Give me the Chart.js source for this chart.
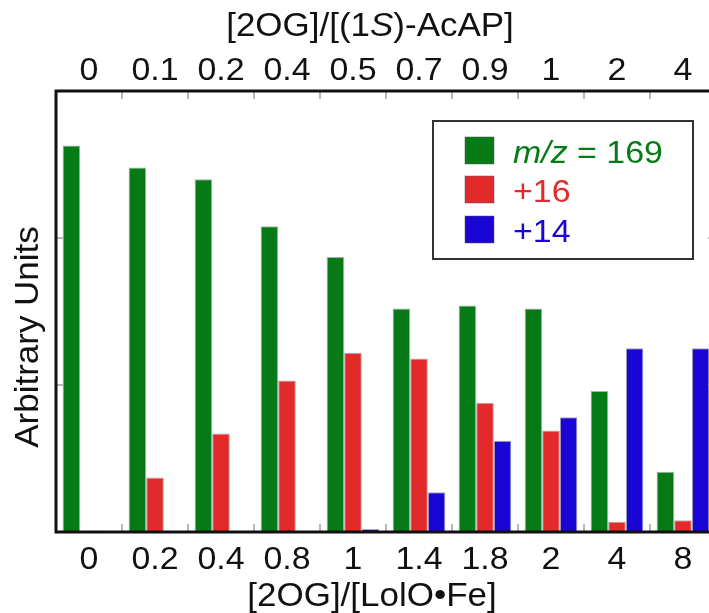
<!DOCTYPE html>
<html>
<head>
<meta charset="utf-8">
<script src="https://cdn.jsdelivr.net/npm/chart.js@4.4.1/dist/chart.umd.min.js"></script>
<style>
    html, body { margin: 0; padding: 0; background: #fff; overflow: hidden; }
    canvas { display: block; }
</style>
</head>
<body>
<canvas id="graficoLolO" width="720" height="613"></canvas>
<script>

// categorias (eixo de baixo e eixo de cima)
const labelsLolO = ['0', '0.2', '0.4', '0.8', '1', '1.4', '1.8', '2', '4', '8']
const labelsAcAP = ['0', '0.1', '0.2', '0.4', '0.5', '0.7', '0.9', '1', '2', '4']

// valores (unidades arbitrarias)
const valores169 = [2.63, 2.48, 2.40, 2.08, 1.87, 1.52, 1.54, 1.52, 0.96, 0.41]
const valoresMais16 = [0.008, 0.37, 0.67, 1.03, 1.22, 1.18, 0.88, 0.69, 0.07, 0.08]
const valoresMais14 = [0, 0.008, 0.008, 0.008, 0.02, 0.27, 0.62, 0.78, 1.25, 1.25]

const yTicks = [1, 2]

const VERDE = '#067a16'
const VERMELHO = '#e22a2a'
const AZUL = '#1a06d4'
const FONTE = '"Liberation Sans", Arial, Helvetica, sans-serif'
const ESTICA = 1.06  // a fonte da figura e um pouco mais larga

// escreve partes de texto (normal/italico) esticadas na horizontal
function escrever(ctx, partes, x, y, tamanho, align) {
    let largura = 0
    partes.forEach(p => {
        ctx.font = (p[1] ? 'italic ' : '') + tamanho + 'px ' + FONTE
        largura += ctx.measureText(p[0]).width
    })
    let inicio = align === 'center' ? -largura / 2 : 0
    ctx.save()
    ctx.translate(x, y)
    ctx.scale(ESTICA, 1)
    ctx.textAlign = 'left'
    ctx.textBaseline = 'alphabetic'
    partes.forEach(p => {
        ctx.font = (p[1] ? 'italic ' : '') + tamanho + 'px ' + FONTE
        ctx.fillText(p[0], inicio, 0)
        inicio += ctx.measureText(p[0]).width
    })
    ctx.restore()
}

const molduraEixos = {
    id: 'molduraEixos',
    afterDraw(chart) {
        const ctx = chart.ctx
        const area = chart.chartArea
        const x = chart.scales.x
        const y = chart.scales.y

        ctx.save()

        // ticks para dentro
        ctx.strokeStyle = '#a0a0a0'
        ctx.lineWidth = 1.5
        ctx.beginPath()
        for (let i = 1; i < labelsLolO.length; i++) {
            let px = (x.getPixelForValue(i - 1) + x.getPixelForValue(i)) / 2
            ctx.moveTo(px, area.top)
            ctx.lineTo(px, area.top + 8)
            ctx.moveTo(px, area.bottom)
            ctx.lineTo(px, area.bottom - 8)
        }
        yTicks.forEach(v => {
            let py = y.getPixelForValue(v)
            ctx.moveTo(area.left, py)
            ctx.lineTo(area.left + 8, py)
            ctx.moveTo(area.right, py)
            ctx.lineTo(area.right - 8, py)
        })
        ctx.stroke()

        // moldura
        ctx.strokeStyle = '#111'
        ctx.lineWidth = 3
        ctx.strokeRect(area.left, area.top, area.right - area.left, area.bottom - area.top)

        // rotulos dos ticks
        ctx.fillStyle = '#111'
        labelsLolO.forEach((t, i) => escrever(ctx, [[t, false]], x.getPixelForValue(i), 569, 32, 'center'))
        labelsAcAP.forEach((t, i) => escrever(ctx, [[t, false]], x.getPixelForValue(i), 80, 32, 'center'))

        // titulos
        escrever(ctx, [['[2OG]/[LolO\u2022Fe]', false]], 372, 606, 33, 'center')
        escrever(ctx, [['[2OG]/[(1', false], ['S', true], [')-AcAP]', false]], 370, 36, 33, 'center')

        ctx.save()
        ctx.translate(38, 337)
        ctx.rotate(-Math.PI / 2)
        escrever(ctx, [['Arbitrary Units', false]], 0, 0, 33, 'center')
        ctx.restore()

        // legenda
        ctx.fillStyle = '#fff'
        ctx.fillRect(433, 121, 260, 138)
        ctx.strokeStyle = '#333'
        ctx.lineWidth = 2
        ctx.strokeRect(433, 121, 260, 138)

        const linhas = [
            [['m/z', true], [' = 169', false]],
            [['+16', false]],
            [['+14', false]]
        ]
        const bases = [163, 202, 242]
        chart.data.datasets.forEach((ds, i) => {
            ctx.fillStyle = ds.backgroundColor
            ctx.fillRect(465, bases[i] - 26, 29, 27)
            ctx.strokeStyle = 'rgba(90,90,90,0.5)'
            ctx.lineWidth = 1
            ctx.strokeRect(465, bases[i] - 26, 29, 27)
            escrever(ctx, linhas[i], 513, bases[i], 32, 'left')
        })

        ctx.restore()
    }
}

const data = {
    labels: labelsLolO,
    datasets: [
        { label: 'm/z = 169', data: valores169, backgroundColor: VERDE },
        { label: '+16', data: valoresMais16, backgroundColor: VERMELHO },
        { label: '+14', data: valoresMais14, backgroundColor: AZUL }
    ]
}
data.datasets.forEach(ds => {
    ds.borderColor = 'rgba(90,90,90,0.5)'
    ds.borderWidth = 1
    ds.categoryPercentage = 0.8
    ds.barPercentage = 1.0
})

window.graficoLolO = new Chart(document.getElementById('graficoLolO'), {
    type: 'bar',
    data: data,
    options: {
        responsive: false,
        devicePixelRatio: 1,
        animation: false,
        layout: {
            padding: { left: 56, top: 91, right: 4, bottom: 81 }
        },
        plugins: {
            legend: { display: false },
            tooltip: { enabled: false },
            title: { display: false }
        },
        scales: {
            x: { display: false },
            y: { display: false, min: 0, max: 3 }
        }
    },
    plugins: [molduraEixos]
})
</script>
</body>
</html>
